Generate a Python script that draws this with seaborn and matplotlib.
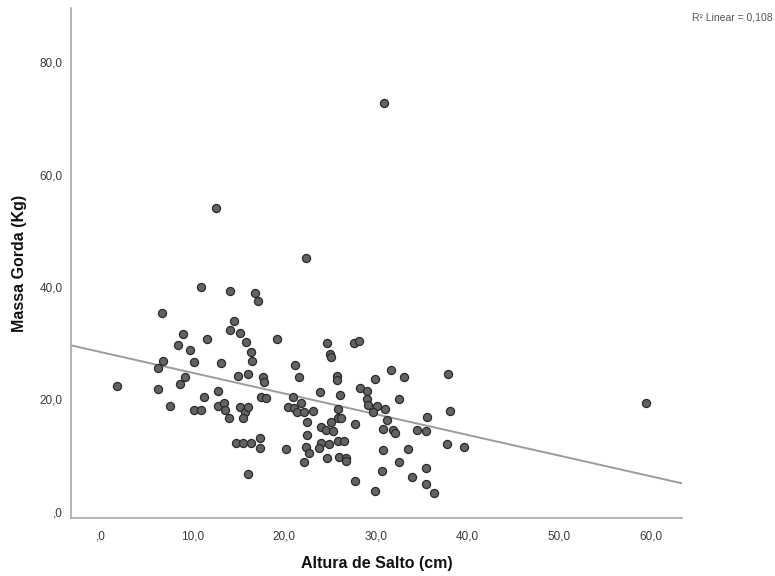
import numpy as np
import pandas as pd
import matplotlib
matplotlib.use("Agg")
import matplotlib.pyplot as plt
import seaborn as sns

# Jump height (cm) and fat mass (kg) per subject
altura_salto = [
    10.9, 14.1, 6.6, 14.5, 14.1, 15.2, 8.9, 15.8, 11.6, 8.4,
    9.7, 16.3, 6.7, 10.1, 13.1, 16.5, 6.2, 9.1, 14.9, 16.0,
    1.7, 6.2, 8.6, 12.8, 11.2, 7.5, 10.1, 10.9, 12.7, 13.4,
    13.5, 13.9, 15.1, 15.7, 16.0, 15.5, 14.7, 15.5, 16.3, 16.0,
    17.3, 17.3, 16.8, 17.1, 19.2, 24.6, 25.0, 25.1, 27.6, 28.1,
    21.1, 21.6, 25.7, 25.7, 31.6, 29.9, 17.7, 17.8, 28.3, 29.0,
    23.9, 26.1, 20.9, 17.4, 18.0, 29.0, 29.1, 21.8, 20.4, 21.0,
    21.4, 22.1, 32.5, 30.1, 31.0, 25.8, 23.1, 22.5, 22.5, 22.3,
    22.7, 22.1, 20.2, 25.8, 26.2, 25.1, 24.0, 24.5, 25.3, 24.0,
    24.9, 25.8, 26.5, 23.8, 24.7, 26.0, 26.7, 26.7, 27.7, 27.7,
    29.7, 31.2, 30.8, 31.8, 32.1, 30.8, 32.5, 30.6, 29.9, 33.1,
    37.9, 35.6, 38.1, 34.5, 35.5, 37.7, 39.6, 33.5, 35.5, 33.9,
    35.4, 36.3, 30.9, 12.5, 22.3, 59.5,
]
massa_gorda = [
    40.0, 39.2, 35.3, 33.9, 32.3, 31.8, 31.6, 30.2, 30.7, 29.7,
    28.7, 28.5, 26.9, 26.7, 26.5, 26.8, 25.6, 24.0, 24.2, 24.5,
    22.4, 21.8, 22.7, 21.5, 20.4, 18.8, 18.1, 18.1, 18.8, 19.4,
    18.1, 16.6, 18.7, 17.8, 18.7, 16.6, 12.3, 12.3, 12.3, 6.7,
    13.2, 11.4, 39.0, 37.5, 30.7, 30.1, 28.1, 27.6, 30.1, 30.4,
    26.1, 23.9, 24.1, 23.4, 25.2, 23.7, 24.0, 23.1, 22.1, 21.4,
    21.3, 20.7, 20.5, 20.5, 20.2, 20.0, 19.0, 19.3, 18.7, 18.4,
    17.8, 17.8, 20.0, 18.8, 18.3, 18.2, 18.0, 16.0, 13.7, 11.5,
    10.5, 8.8, 11.1, 16.6, 16.6, 16.0, 15.1, 14.5, 14.4, 12.2,
    12.1, 12.6, 12.5, 11.4, 9.6, 9.8, 9.5, 9.1, 15.6, 5.5,
    17.8, 16.3, 14.7, 14.5, 14.0, 11.0, 8.9, 7.3, 3.6, 23.9,
    24.5, 16.9, 17.9, 14.5, 14.4, 12.0, 11.6, 11.1, 7.7, 6.2,
    4.9, 3.3, 72.7, 54.0, 45.1, 19.3,
]

x_ticks = [0, 10, 20, 30, 40, 50, 60]
x_tick_labels = [",0", "10,0", "20,0", "30,0", "40,0", "50,0", "60,0"]
y_ticks = [0, 20, 40, 60, 80]
y_tick_labels = [",0", "20,0", "40,0", "60,0", "80,0"]
x_label = "Altura de Salto (cm)"
y_label = "Massa Gorda (Kg)"
r2_label = "R² Linear = 0,108"

df = pd.DataFrame({"altura": altura_salto, "massa": massa_gorda})

sns.set_theme(style="white")
plt.rcParams["font.family"] = ["Liberation Sans", "DejaVu Sans"]

fig = plt.figure(figsize=(7.75, 5.76), dpi=100)
ax = fig.add_axes([0.0916, 0.1012, 0.7884, 0.8844])
ax.set_xlim(-3.3, 63.4)
ax.set_ylim(-1.07, 89.6)

# Linear fit line spanning the full x range
sns.regplot(data=df, x="altura", y="massa", scatter=False, ci=None,
            truncate=False, ax=ax,
            line_kws=dict(color="#9c9c9c", lw=1.4, zorder=2))

sns.scatterplot(data=df, x="altura", y="massa", ax=ax, s=34,
                color="#636363", edgecolor="#2a2a2a", linewidth=0.9,
                zorder=3, legend=False)

ax.set_xlim(-3.3, 63.4)
ax.set_ylim(-1.07, 89.6)

ax.set_xticks(x_ticks)
ax.set_xticklabels(x_tick_labels)
ax.set_yticks(y_ticks)
ax.set_yticklabels(y_tick_labels)
ax.tick_params(axis="both", length=0, labelsize=8.5, labelcolor="#3a3a3a")
ax.tick_params(axis="x", pad=9)
ax.tick_params(axis="y", pad=6)

for side in ("top", "right"):
    ax.spines[side].set_visible(False)
for side in ("left", "bottom"):
    ax.spines[side].set_color("#a8a8a8")
    ax.spines[side].set_linewidth(1.2)

ax.set_xlabel(x_label, fontsize=11.5, fontweight="bold", color="#111111")
ax.set_ylabel(y_label, fontsize=11.5, fontweight="bold", color="#111111")
ax.xaxis.set_label_coords(0.5, -0.075)
ax.yaxis.set_label_coords(-0.072, 0.5)

fig.text(0.997, 0.970, r2_label, ha="right", va="center",
         fontsize=7.5, color="#555555")

fig.savefig("out.png", dpi=100)
